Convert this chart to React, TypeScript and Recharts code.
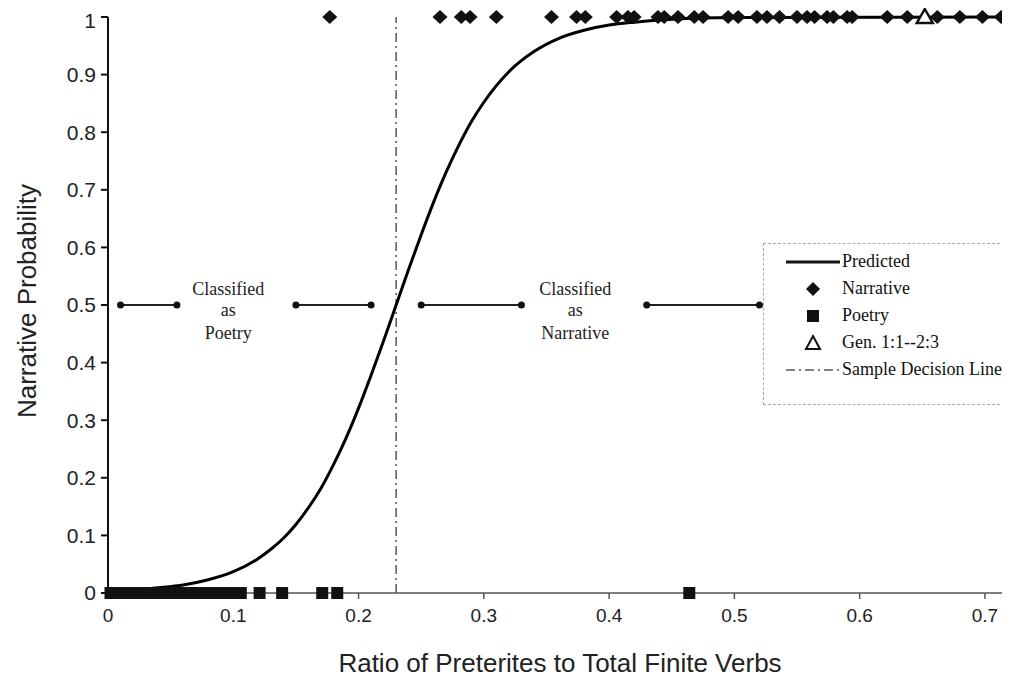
import React from 'react';
import {
  ComposedChart,
  Line,
  Scatter,
  XAxis,
  YAxis,
  ReferenceLine,
  ReferenceDot,
  Legend,
  Label,
} from 'recharts';

// predicted logistic curve
const curveX = [0, 0.02, 0.04, 0.06, 0.08, 0.1, 0.12, 0.13, 0.14, 0.15, 0.16, 0.17, 0.18, 0.19, 0.2, 0.21, 0.22, 0.23, 0.24, 0.25, 0.26, 0.27, 0.28, 0.29, 0.3, 0.32, 0.34, 0.36, 0.38, 0.4, 0.42, 0.45, 0.5, 0.72];
const curveP = [0.003, 0.005, 0.009, 0.014, 0.023, 0.037, 0.06, 0.076, 0.095, 0.119, 0.148, 0.182, 0.223, 0.269, 0.321, 0.378, 0.438, 0.5, 0.562, 0.622, 0.679, 0.731, 0.777, 0.818, 0.852, 0.905, 0.94, 0.963, 0.977, 0.986, 0.991, 0.996, 0.999, 1];

// narrative texts (probability 1)
const narrativeX = [0.177, 0.265, 0.282, 0.289, 0.31, 0.354, 0.374, 0.381, 0.406, 0.415, 0.42, 0.439, 0.444, 0.455, 0.468, 0.475, 0.495, 0.503, 0.518, 0.526, 0.536, 0.55, 0.558, 0.564, 0.574, 0.579, 0.59, 0.594, 0.622, 0.638, 0.662, 0.68, 0.698, 0.713];

// poetry texts (probability 0)
const poetryX = [0.002, 0.006, 0.01, 0.013, 0.017, 0.021, 0.025, 0.028, 0.032, 0.036, 0.04, 0.044, 0.047, 0.051, 0.055, 0.059, 0.063, 0.066, 0.07, 0.074, 0.078, 0.082, 0.085, 0.089, 0.093, 0.096, 0.1, 0.106, 0.121, 0.139, 0.171, 0.183, 0.464];

const genesisX = [0.652];
const decisionX = 0.23;

// arrow segments drawn at p = 0.5
const arrowStarts = [0.01, 0.15, 0.25, 0.43];
const arrowEnds = [0.055, 0.21, 0.33, 0.52];

const xTicks = [0, 0.1, 0.2, 0.3, 0.4, 0.5, 0.6, 0.7];
const yTicks = [0, 0.1, 0.2, 0.3, 0.4, 0.5, 0.6, 0.7, 0.8, 0.9, 1];

const curveData = curveX.map((x, i) => ({ x, p: curveP[i] }));
const narrativeData = narrativeX.map((x) => ({ x, p: 1 }));
const poetryData = poetryX.map((x) => ({ x, p: 0 }));
const genesisData = genesisX.map((x) => ({ x, p: 1 }));

const sans = '"Liberation Sans", Arial, sans-serif';
const serif = '"Liberation Serif", "Times New Roman", serif';

const Diamond = (props: any) => {
  const { cx, cy } = props;
  return (
    <polygon
      points={`${cx},${cy - 7} ${cx + 7.5},${cy} ${cx},${cy + 7} ${cx - 7.5},${cy}`}
      fill="#111"
    />
  );
};

const Square = (props: any) => {
  const { cx, cy } = props;
  return <rect x={cx - 6} y={cy - 6} width={12} height={12} fill="#111" />;
};

const Triangle = (props: any) => {
  const { cx, cy } = props;
  return (
    <polygon
      points={`${cx},${cy - 8} ${cx + 8},${cy + 6} ${cx - 8},${cy + 6}`}
      fill="#fff"
      stroke="#111"
      strokeWidth={2.5}
    />
  );
};

const ArrowEnd = (props: any) => {
  const { cx, cy } = props;
  return <circle cx={cx} cy={cy} r={3.5} fill="#111" />;
};

const classText = (lines: string[]) => (props: any) => {
  const { cx, cy } = props;
  return (
    <g fontFamily={serif} fontSize={18} fill="#222" textAnchor="middle">
      <text x={cx} y={cy - 10}>{lines[0]}</text>
      <text x={cx} y={cy + 11}>{lines[1]}</text>
      <text x={cx} y={cy + 34}>{lines[2]}</text>
    </g>
  );
};

const renderLegend = () => {
  const row: React.CSSProperties = { display: 'flex', alignItems: 'center', height: 27 };
  const icon: React.CSSProperties = { width: 56, height: 20, marginLeft: 20, marginRight: 2 };
  return (
    <div
      style={{
        width: 247,
        height: 162,
        boxSizing: 'border-box',
        border: '1px dashed #aaa',
        background: '#fff',
        paddingTop: 4,
        fontFamily: serif,
        fontSize: 18,
        color: '#111',
      }}
    >
      <div style={row}>
        <svg style={icon}><line x1={2} y1={10} x2={56} y2={10} stroke="#111" strokeWidth={3} /></svg>
        <span>Predicted</span>
      </div>
      <div style={row}>
        <svg style={icon}><polygon points="29,3 36,10 29,17 22,10" fill="#111" /></svg>
        <span>Narrative</span>
      </div>
      <div style={row}>
        <svg style={icon}><rect x={23} y={4} width={12} height={12} fill="#111" /></svg>
        <span>Poetry</span>
      </div>
      <div style={row}>
        <svg style={icon}><polygon points="29,3 36,16 22,16" fill="#fff" stroke="#111" strokeWidth={2} /></svg>
        <span>Gen. 1:1--2:3</span>
      </div>
      <div style={row}>
        <svg style={icon}><line x1={2} y1={10} x2={56} y2={10} stroke="#555" strokeWidth={1.5} strokeDasharray="9 4 2 4" /></svg>
        <span>Sample Decision Line</span>
      </div>
    </div>
  );
};

export default function App() {
  return (
    <div style={{ width: 1002, height: 672, background: '#fff' }}>
      <ComposedChart
        width={1002}
        height={672}
        margin={{ top: 9, right: 0, bottom: 27, left: 0 }}
      >
        <XAxis
          type="number"
          dataKey="x"
          domain={[0, 0.72]}
          ticks={xTicks}
          height={60}
          stroke="#555"
          strokeWidth={1.5}
          tickSize={6}
          tickMargin={10}
          tick={{ fontSize: 19, fontFamily: sans, fill: '#222' }}
        >
          <Label
            content={() => (
              <text x={552} y={664} textAnchor="middle" fontFamily={sans} fontSize={26} fill="#222">
                Ratio of Preterites to Total Finite Verbs
              </text>
            )}
          />
        </XAxis>
        <YAxis
          type="number"
          dataKey="p"
          domain={[0, 1]}
          ticks={yTicks}
          width={100}
          stroke="#111"
          strokeWidth={2}
          tickSize={7}
          tickMargin={5}
          tick={{ fontSize: 21, fontFamily: sans, fill: '#222' }}
        >
          <Label
            content={() => (
              <text
                x={28}
                y={293}
                textAnchor="middle"
                transform="rotate(-90 28 293)"
                fontFamily={sans}
                fontSize={26}
                fill="#222"
              >
                Narrative Probability
              </text>
            )}
          />
        </YAxis>
        <ReferenceLine
          x={decisionX}
          stroke="#555"
          strokeWidth={1.5}
          strokeDasharray="9 4 2 4"
        />
        {arrowStarts.map((a, i) => (
          <Scatter
            key={`arrow-${i}`}
            data={[{ x: a, p: 0.5 }, { x: arrowEnds[i], p: 0.5 }]}
            dataKey="p"
            line={{ stroke: '#222', strokeWidth: 2 }}
            shape={ArrowEnd}
            isAnimationActive={false}
            legendType="none"
          />
        ))}
        <ReferenceDot x={0.096} y={0.5} r={0} shape={classText(['Classified', 'as', 'Poetry'])} />
        <ReferenceDot x={0.373} y={0.5} r={0} shape={classText(['Classified', 'as', 'Narrative'])} />
        <Line
          data={curveData}
          dataKey="p"
          type="monotone"
          stroke="#000"
          strokeWidth={3}
          dot={false}
          isAnimationActive={false}
        />
        <Scatter data={poetryData} dataKey="p" shape={Square} isAnimationActive={false} />
        <Scatter data={narrativeData} dataKey="p" shape={Diamond} isAnimationActive={false} />
        <Scatter data={genesisData} dataKey="p" shape={Triangle} isAnimationActive={false} />
        <Legend
          layout="horizontal"
          verticalAlign="middle"
          align="center"
          content={renderLegend}
          wrapperStyle={{ left: 755, top: 235, width: 247, height: 162 }}
        />
      </ComposedChart>
    </div>
  );
}
